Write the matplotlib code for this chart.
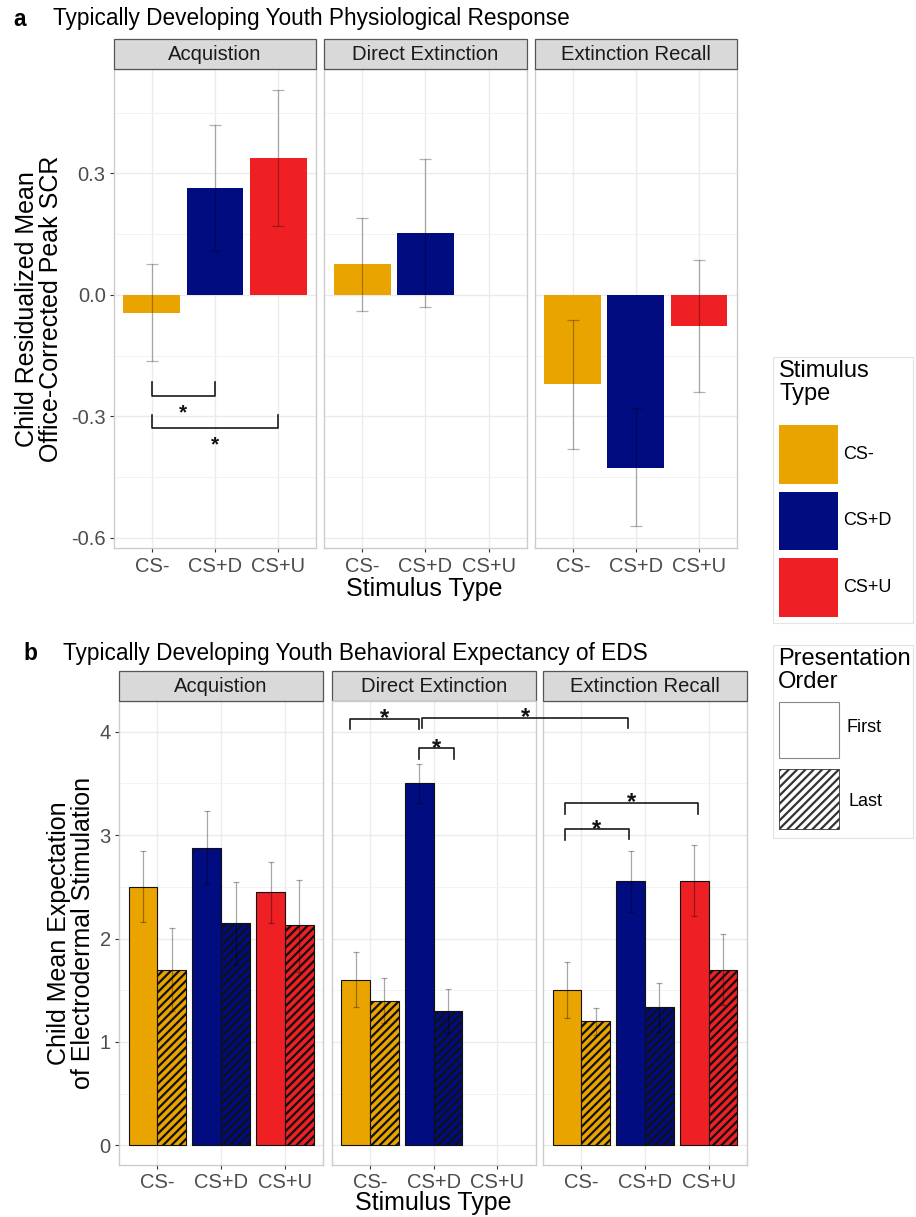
import numpy as np
import matplotlib
matplotlib.use('Agg')
import matplotlib.pyplot as plt
from matplotlib.patches import Rectangle

plt.rcParams['font.family'] = ['Liberation Sans', 'DejaVu Sans']
plt.rcParams['hatch.linewidth'] = 1.6

W, H = 916, 1217

# ---------------- data ----------------
stimuli = ['CS-', 'CS+D', 'CS+U']
phases = ['Acquistion', 'Direct Extinction', 'Extinction Recall']
stim_colors = ['#EAA400', '#000C80', '#EE2024']
order_labels = ['First', 'Last']

# Panel a: residualized mean office-corrected peak SCR
scr_acq_mean = [-0.044, 0.263, 0.339]
scr_acq_lo = [-0.164, 0.108, 0.171]
scr_acq_hi = [0.077, 0.419, 0.506]
scr_de_mean = [0.077, 0.153]
scr_de_lo = [-0.040, -0.031]
scr_de_hi = [0.190, 0.335]
scr_er_mean = [-0.221, -0.427, -0.078]
scr_er_lo = [-0.380, -0.572, -0.239]
scr_er_hi = [-0.062, -0.279, 0.087]

# Panel b: mean expectation of electrodermal stimulation
eds_acq_first = [2.50, 2.88, 2.45]
eds_acq_first_lo = [2.16, 2.53, 2.15]
eds_acq_first_hi = [2.85, 3.23, 2.74]
eds_acq_last = [1.70, 2.15, 2.13]
eds_acq_last_lo = [1.30, 1.74, 1.68]
eds_acq_last_hi = [2.10, 2.55, 2.57]

eds_de_first = [1.60, 3.50]
eds_de_first_lo = [1.34, 3.31]
eds_de_first_hi = [1.87, 3.69]
eds_de_last = [1.40, 1.30]
eds_de_last_lo = [1.18, 1.09]
eds_de_last_hi = [1.62, 1.51]

eds_er_first = [1.50, 2.56, 2.56]
eds_er_first_lo = [1.23, 2.26, 2.22]
eds_er_first_hi = [1.77, 2.85, 2.90]
eds_er_last = [1.20, 1.34, 1.70]
eds_er_last_lo = [1.07, 1.10, 1.36]
eds_er_last_hi = [1.33, 1.57, 2.04]

scr_sets = [(scr_acq_mean, scr_acq_lo, scr_acq_hi),
            (scr_de_mean, scr_de_lo, scr_de_hi),
            (scr_er_mean, scr_er_lo, scr_er_hi)]
eds_sets = [((eds_acq_first, eds_acq_first_lo, eds_acq_first_hi),
             (eds_acq_last, eds_acq_last_lo, eds_acq_last_hi)),
            ((eds_de_first, eds_de_first_lo, eds_de_first_hi),
             (eds_de_last, eds_de_last_lo, eds_de_last_hi)),
            ((eds_er_first, eds_er_first_lo, eds_er_first_hi),
             (eds_er_last, eds_er_last_lo, eds_er_last_hi))]

# ---------------- figure ----------------
fig = plt.figure(figsize=(W / 100, H / 100), dpi=100)


def px_axes(l, t, r, b):
    return fig.add_axes([l / W, 1 - b / H, (r - l) / W, (b - t) / H])


def fig_rect(l, t, r, b, **kw):
    rect = Rectangle((l / W, 1 - b / H), (r - l) / W, (b - t) / H,
                     transform=fig.transFigure, **kw)
    fig.add_artist(rect)
    return rect


def ftext(x, y, s, **kw):
    return fig.text(x / W, 1 - y / H, s, **kw)


def style_panel(ax, ylim, major, minor, labels, show_y):
    ax.set_xlim(0.4, 3.6)
    ax.set_ylim(*ylim)
    ax.set_xticks([1, 2, 3])
    ax.set_xticklabels(stimuli)
    ax.set_yticks(major)
    ax.set_yticklabels(labels)
    ax.set_yticks(minor, minor=True)
    ax.grid(True, which='major', color='#EBEBEB', lw=1.0)
    ax.grid(True, which='minor', axis='y', color='#F3F3F3', lw=0.7)
    ax.set_axisbelow(True)
    ax.tick_params(which='minor', length=0)
    ax.tick_params(which='major', length=3, width=0.8, color='#333333',
                   labelcolor='#4D4D4D', labelsize=14.5, pad=3)
    if not show_y:
        ax.tick_params(axis='y', which='both', length=0, labelleft=False)
    for s in ax.spines.values():
        s.set_color('#CCCCCC')
        s.set_linewidth(1.0)


def strip(l, t, r, b, label):
    fig_rect(l, t, r, b, facecolor='#D9D9D9', edgecolor='#555555', lw=0.9)
    ftext((l + r) / 2, (t + b) / 2 + 1, label, ha='center', va='center',
          fontsize=14.6, color='#1A1A1A')


def bracket(ax, x0, x1, y_bar, y0, y1):
    ax.plot([x0, x0, x1, x1], [y0, y_bar, y_bar, y1], color='#1A1A1A',
            lw=1.2, clip_on=False, zorder=5)


def star(ax, x, y, fs=17):
    ax.annotate('*', (x, y), xytext=(0, -0.56 * fs), textcoords='offset points',
                ha='center', va='baseline', fontsize=fs, fontweight='bold',
                color='#111111', annotation_clip=False, zorder=6)


# ---------------- panel a ----------------
a_cols = [(114, 316), (324, 526.7), (535, 736.7)]
a_top, a_bot = 69, 548.3
a_axes = []
for i, (l, r) in enumerate(a_cols):
    ax = px_axes(l, a_top, r, a_bot)
    style_panel(ax, (-0.626, 0.558), [-0.6, -0.3, 0.0, 0.3],
                [-0.45, -0.15, 0.15, 0.45], ['-0.6', '-0.3', '0.0', '0.3'], i == 0)
    mean, lo, hi = scr_sets[i]
    x = np.arange(1, len(mean) + 1)
    m = np.array(mean)
    ax.bar(x, m, width=0.9, color=stim_colors[:len(mean)], zorder=2)
    ax.errorbar(x, m, yerr=[m - np.array(lo), np.array(hi) - m], fmt='none',
                ecolor=(0, 0, 0, 0.3), elinewidth=0.9, capsize=4.3,
                capthick=0.9, zorder=3)
    strip(l, 39, r, a_top, phases[i])
    a_axes.append(ax)

bracket(a_axes[0], 1, 2, -0.249, -0.216, -0.216)
star(a_axes[0], 1.5, -0.276, fs=15)
bracket(a_axes[0], 1, 3, -0.330, -0.296, -0.296)
star(a_axes[0], 2.0, -0.356, fs=15)

ftext(13, 19, 'a', ha='left', va='center', fontsize=16.3, fontweight='bold')
ftext(53, 19, 'Typically Developing Youth Physiological Response', ha='left',
      va='center', fontsize=16.3)
ftext(424, 589, 'Stimulus Type', ha='center', va='center', fontsize=18)
ftext(39, 309, 'Child Residualized Mean\nOffice-Corrected Peak SCR',
      ha='center', va='center', rotation=90, fontsize=18,
      multialignment='center', linespacing=1.0)

# ---------------- panel b ----------------
b_cols = [(119, 323.3), (331.7, 535.7), (543, 747)]
b_top, b_bot = 700.7, 1165
b_axes = []
for i, (l, r) in enumerate(b_cols):
    ax = px_axes(l, b_top, r, b_bot)
    style_panel(ax, (-0.19, 4.30), [0, 1, 2, 3, 4], [0.5, 1.5, 2.5, 3.5],
                ['0', '1', '2', '3', '4'], i == 0)
    for k, (mean, lo, hi) in enumerate(eds_sets[i]):
        m = np.array(mean)
        x = np.arange(1, len(mean) + 1) + (-0.225 if k == 0 else 0.225)
        ax.bar(x, m, width=0.45, color=stim_colors[:len(mean)],
               edgecolor='#111111', lw=0.8, hatch=None if k == 0 else '////',
               zorder=2)
        ax.errorbar(x, m, yerr=[m - np.array(lo), np.array(hi) - m], fmt='none',
                    ecolor=(0, 0, 0, 0.35), elinewidth=0.9, capsize=2.0,
                    capthick=0.9, zorder=3)
    strip(l, 671, r, b_top, phases[i])
    b_axes.append(ax)

axDE, axER = b_axes[1], b_axes[2]
axDE.set_zorder(3)
# Direct Extinction: CS- vs CS+D (first)
bracket(axDE, 0.68, 1.77, 4.12, 4.03, 4.03)
star(axDE, (0.68 + 1.77) / 2, 4.19)
# Direct Extinction CS+D first vs last
bracket(axDE, 1.77, 2.32, 3.84, 3.74, 3.74)
star(axDE, (1.77 + 2.32) / 2, 3.90)
# Direct Extinction CS+D vs Extinction Recall CS+D (across panels)
p = axER.transData.transform((1.74, 0))
x_er_in_de = axDE.transData.inverted().transform(p)[0]
bracket(axDE, 1.82, x_er_in_de, 4.13, 4.04, 4.04)
star(axDE, (1.82 + x_er_in_de) / 2, 4.20)
# Extinction Recall brackets
bracket(axER, 0.74, 1.745, 3.06, 2.95, 2.96)
star(axER, (0.74 + 1.745) / 2, 3.12)
bracket(axER, 0.74, 2.83, 3.31, 3.20, 3.20)
star(axER, (0.74 + 2.83) / 2, 3.38)

ftext(23, 653, 'b', ha='left', va='center', fontsize=16.3, fontweight='bold')
ftext(63, 653, 'Typically Developing Youth Behavioral Expectancy of EDS',
      ha='left', va='center', fontsize=16.3)
ftext(433, 1203, 'Stimulus Type', ha='center', va='center', fontsize=18)
ftext(71, 933, 'Child Mean Expectation\nof Electrodermal Stimulation',
      ha='center', va='center', rotation=90, fontsize=18,
      multialignment='center', linespacing=1.0)

# ---------------- legends ----------------
fig_rect(773, 357, 913, 623, facecolor='white', edgecolor='#E3E3E3', lw=0.8)
ftext(779, 360, 'Stimulus\nType', ha='left', va='top', fontsize=17,
      linespacing=1.05)
key_rows = [(425, 484), (491.7, 550), (558, 616.7)]
for (t, b), c, lab in zip(key_rows, stim_colors, stimuli):
    fig_rect(779, t, 838, b, facecolor=c, edgecolor='none')
    ftext(843, (t + b) / 2, lab, ha='left', va='center', fontsize=13)

fig_rect(773, 645, 913, 838, facecolor='white', edgecolor='#E3E3E3', lw=0.8)
ftext(778, 648, 'Presentation\nOrder', ha='left', va='top', fontsize=17,
      linespacing=1.05)
fig_rect(779, 701.7, 839, 758.3, facecolor='white', edgecolor='#888888', lw=0.8)
ftext(847, 727, order_labels[0], ha='left', va='center', fontsize=13)
fig_rect(779, 769, 839, 829, facecolor='white', edgecolor='#333333', lw=0.6,
         hatch='////')
ftext(848, 802, order_labels[1], ha='left', va='center', fontsize=13)

fig.savefig('out.png', dpi=100, facecolor='white')
